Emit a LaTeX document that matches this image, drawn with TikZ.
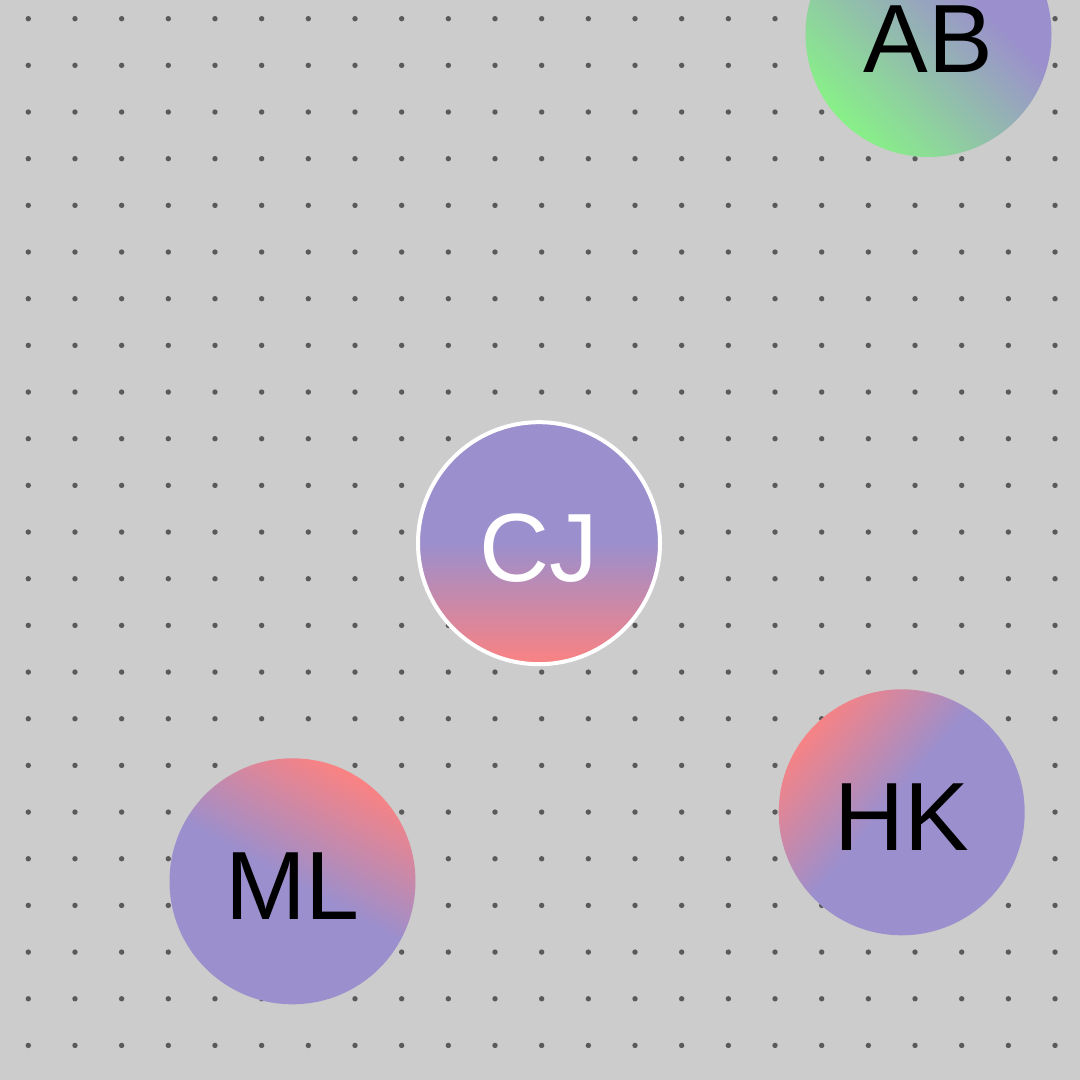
\documentclass[tikz,border=0pt]{standalone}
\usepackage{fontspec}
\setmainfont{Liberation Sans}
\definecolor{bgc}{HTML}{CCCCCC}
\definecolor{dotc}{HTML}{5A5A5A}
\definecolor{purp}{RGB}{155,143,205}
\definecolor{pinkc}{RGB}{250,130,130}
\definecolor{greenc}{RGB}{136,240,136}
\pgfdeclarehorizontalshading{abshade}{100bp}{color(0bp)=(greenc); color(25bp)=(greenc); color(62bp)=(purp); color(100bp)=(purp)}
\pgfdeclarehorizontalshading{mlshade}{100bp}{color(0bp)=(purp); color(50bp)=(purp); color(75bp)=(pinkc); color(100bp)=(pinkc)}
\pgfdeclarehorizontalshading{hkshade}{100bp}{color(0bp)=(purp); color(53bp)=(purp); color(76bp)=(pinkc); color(100bp)=(pinkc)}
\pgfdeclareverticalshading{cjshade}{100bp}{color(0bp)=(pinkc); color(25bp)=(pinkc); color(50bp)=(purp); color(100bp)=(purp)}
\tikzset{
  avatar/.style={circle, inner sep=0pt, outer sep=0pt, minimum size=246pt},
  initials/.style={anchor=base, inner sep=0pt, font=\fontsize{97}{97}\selectfont},
}
\begin{document}
\begin{tikzpicture}[x=1pt,y=1pt]
\useasboundingbox (0,0) rectangle (1080,1080);
\clip (0,0) rectangle (1080,1080);
\fill[bgc] (0,0) rectangle (1080,1080);
\foreach \i in {0,...,22}{
  \foreach \j in {0,...,22}{
    \fill[dotc] ({28.3+46.67*\i},{1080-18.7-46.67*\j}) circle (2.7);
  }
}
% AB
\node[avatar, shading=abshade, shading angle=45] (AB) at (928.5,1046) {};
\node[initials, text=black] (ABt) at ([yshift=-38.5pt]AB.center) {AB};
% CJ
\node[avatar, minimum size=242pt, draw=white, line width=4pt, shading=cjshade] (CJ) at (539,536.8) {};
\node[initials, text=white] (CJt) at ([yshift=-38.5pt]CJ.center) {CJ};
% HK
\node[avatar, shading=hkshade, shading angle=140] (HK) at (901.7,267.7) {};
\node[initials, text=black] (HKt) at ([yshift=-38.5pt]HK.center) {HK};
% ML
\node[avatar, shading=mlshade, shading angle=61] (ML) at (292.5,198.7) {};
\node[initials, text=black] (MLt) at ([yshift=-38.5pt]ML.center) {ML};
\end{tikzpicture}
\end{document}
